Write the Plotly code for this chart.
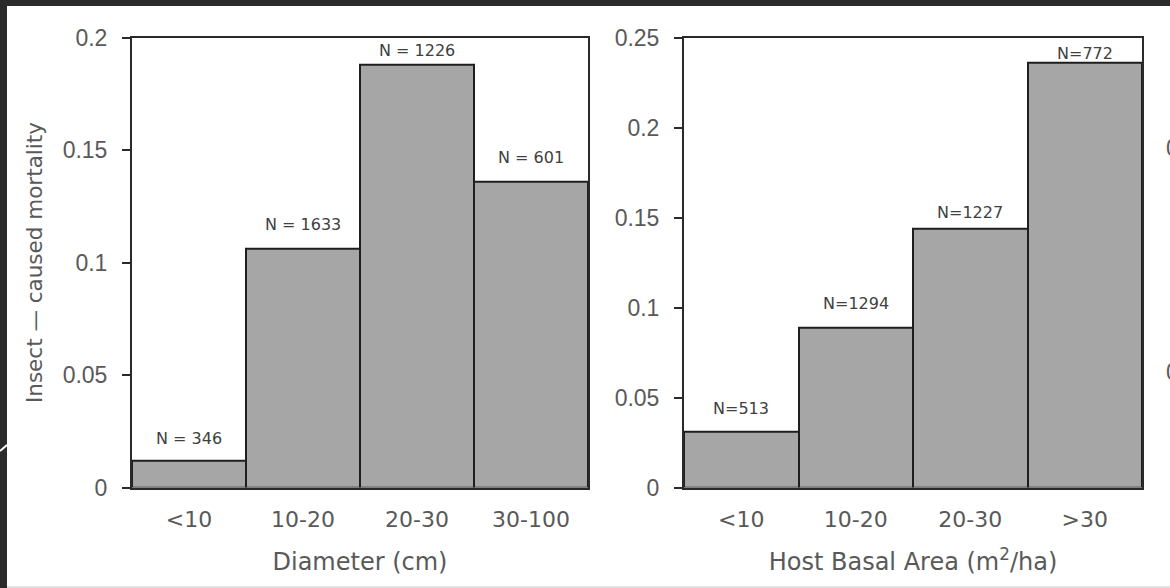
import plotly.graph_objects as go

# ---- data ----
diameter_classes = ["<10", "10-20", "20-30", "30-100"]
diameter_mortality = [0.012, 0.106, 0.188, 0.136]
diameter_n = [346, 1633, 1226, 601]

basal_classes = ["<10", "10-20", "20-30", ">30"]
basal_mortality = [0.031, 0.089, 0.144, 0.236]
basal_n = [513, 1294, 1227, 772]

left_ticks = [0, 0.05, 0.1, 0.15, 0.2]
right_ticks = [0, 0.05, 0.1, 0.15, 0.2, 0.25]

# label lift above bar top (pixels) - style only
left_lift = [22, 25, 14, 24]
right_lift = [23, 24, 16, 9]

W, H = 1170, 588
def px(x):
    return x / W
def py(y):
    return 1 - y / H

BAR = "#a6a6a6"
EDGE = "#1e1e1e"
FRAME = "#2a2a2a"
TXT = "#595959"
XFONT = "DejaVu Sans"
YFONT = "Liberation Sans"

fig = go.Figure()
fig.add_trace(go.Bar(x=diameter_classes, y=diameter_mortality, xaxis="x", yaxis="y",
                     marker=dict(color=BAR, line=dict(color=EDGE, width=2)),
                     hoverinfo="x+y", showlegend=False))
fig.add_trace(go.Bar(x=basal_classes, y=basal_mortality, xaxis="x2", yaxis="y2",
                     marker=dict(color=BAR, line=dict(color=EDGE, width=2)),
                     hoverinfo="x+y", showlegend=False))

annotations = []
for c, v, n, s in zip(diameter_classes, diameter_mortality, diameter_n, left_lift):
    annotations.append(dict(x=c, y=v, xref="x", yref="y", text=f"N = {n}", showarrow=False,
                            yanchor="middle", xanchor="center", yshift=s,
                            font=dict(family=XFONT, size=16, color="#404040")))
for c, v, n, s in zip(basal_classes, basal_mortality, basal_n, right_lift):
    annotations.append(dict(x=c, y=v, xref="x2", yref="y2", text=f"N={n}", showarrow=False,
                            yanchor="middle", xanchor="center", yshift=s,
                            font=dict(family=XFONT, size=16, color="#404040")))
# tick labels of a third panel, cut off at the right edge as in the reference
for lbl, yy in [("0.2", 148), ("0.1", 372)]:
    annotations.append(dict(x=px(1164), y=py(yy), xref="paper", yref="paper", text=lbl,
                            showarrow=False, xanchor="left", yanchor="middle",
                            font=dict(family=YFONT, size=23, color=TXT)))

xcommon = dict(type="category", showline=True, mirror=True, linecolor=FRAME, linewidth=2,
               ticks="", showgrid=False, zeroline=False, range=[-0.5, 3.5],
               tickfont=dict(family=XFONT, size=22, color=TXT), ticklabelstandoff=11,
               fixedrange=True, automargin=False)
ycommon = dict(showline=True, mirror=True, linecolor=FRAME, linewidth=2,
               ticks="outside", ticklen=8, tickwidth=2, tickcolor=FRAME,
               showgrid=False, zeroline=False,
               tickfont=dict(family=YFONT, size=23, color=TXT), ticklabelstandoff=10,
               domain=[py(487.5), py(37.7)], fixedrange=True, automargin=False)

fig.update_layout(
    width=W, height=H,
    margin=dict(l=0, r=0, t=0, b=0, pad=0, autoexpand=False),
    paper_bgcolor="#2b2b2b",
    plot_bgcolor="white",
    bargap=0,
    xaxis=dict(xcommon, domain=[px(132), px(588)], anchor="y",
               title=dict(text="Diameter (cm)", standoff=22,
                          font=dict(family=XFONT, size=24, color=TXT))),
    yaxis=dict(ycommon, anchor="x", range=[0, 0.2], tickvals=left_ticks,
               title=dict(text="Insect \u2014 caused mortality", standoff=14,
                          font=dict(family=XFONT, size=21.5, color=TXT))),
    xaxis2=dict(xcommon, domain=[px(684), px(1142)], anchor="y2",
                title=dict(text="Host Basal Area (m<sup>2</sup>/ha)", standoff=22,
                           font=dict(family=XFONT, size=24, color=TXT))),
    yaxis2=dict(ycommon, anchor="x2", range=[0, 0.25], tickvals=right_ticks),
    annotations=annotations,
    shapes=[
        dict(type="rect", xref="paper", yref="paper", x0=px(7), x1=1, y0=py(586), y1=py(6),
             fillcolor="white", line=dict(width=0), layer="below"),
        dict(type="rect", xref="paper", yref="paper", x0=px(7), x1=1, y0=0, y1=py(586),
             fillcolor="#e2e2e2", line=dict(width=0), layer="below"),
        dict(type="line", xref="paper", yref="paper", x0=0, y0=py(451), x1=px(7), y1=py(445),
             line=dict(color="white", width=2), layer="above"),
    ],
)

post = """
document.documentElement.style.margin = '0';
document.documentElement.style.padding = '0';
document.documentElement.style.overflow = 'hidden';
document.body.style.margin = '0';
document.body.style.padding = '0';
document.body.style.overflow = 'hidden';
"""
fig.write_html("out.html", post_script=post, config={"displayModeBar": False})
